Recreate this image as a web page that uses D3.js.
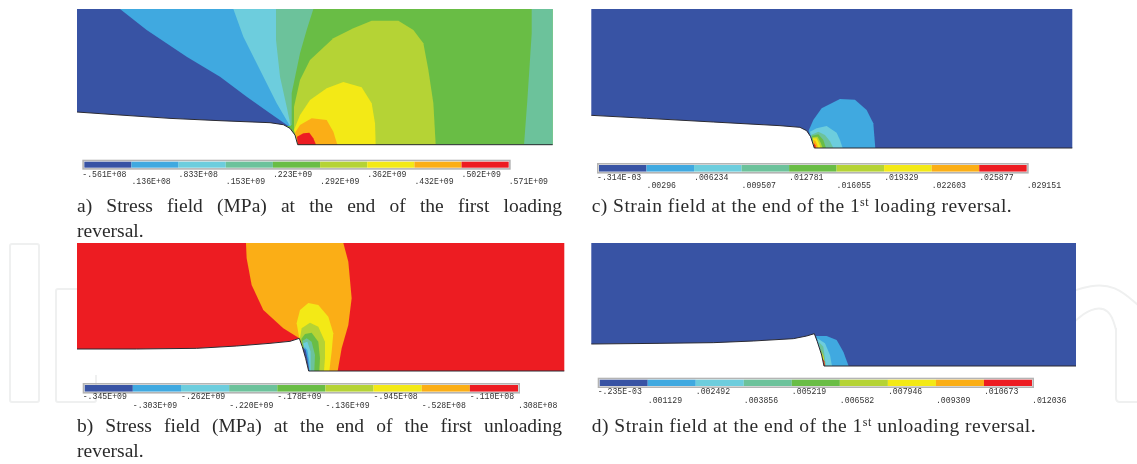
<!DOCTYPE html>
<html lang="en">
  <head>
    <meta charset="utf-8">
    <title>Stress and strain fields</title>
    <style>
      html, body { margin: 0; padding: 0; background: #fff; }
      svg { display: block; }
      .scale-label { font-family: "Liberation Mono", monospace; font-size: 8.2px; fill: #333; }
      .caption { font-family: "Liberation Serif", serif; font-size: 19.5px; fill: #2b2b2b; white-space: pre; }
    </style>
  </head>
  <body>
    <svg class="chart" width="1137" height="464"></svg>

    <script src="https://cdnjs.cloudflare.com/ajax/libs/d3/7.8.5/d3.min.js"></script>
    <script type="text/javascript">
    // contour band colours, lowest to highest
    var bandColors = ["#3953a4", "#3fa9e0", "#6dcddd", "#6cc29b", "#69bd45", "#b5d334", "#f3e914", "#fbae17", "#ed1f24"];

    // colour bar labels
    var labelsA = ["-.561E+08", ".136E+08", ".833E+08", ".153E+09", ".223E+09", ".292E+09", ".362E+09", ".432E+09", ".502E+09", ".571E+09"];
    var labelsB = ["-.345E+09", "-.303E+09", "-.262E+09", "-.220E+09", "-.178E+09", "-.136E+09", "-.945E+08", "-.528E+08", "-.110E+08", ".308E+08"];
    var labelsC = ["-.314E-03", ".00296", ".006234", ".009507", ".012781", ".016055", ".019329", ".022603", ".025877", ".029151"];
    var labelsD = ["-.235E-03", ".001129", ".002492", ".003856", ".005219", ".006582", ".007946", ".009309", ".010673", ".012036"];

    // crack outlines, x along the specimen, y up from the ligament
    var notchA = [[0,98],[129,89],[279,79],[429,72],[579,66],[619,60],[639,49],[654,29],[662,0]];
    var notchB = [[0,66],[179,66],[359,68],[479,75],[579,83],[639,89],[667,98],[676,73],[686,38],[695,0]];
    var notchC = [[0,98],[166,89],[366,78],[566,67],[626,62],[646,52],[658,34],[669,0]];
    var notchD = [[0,66],[206,68],[366,70],[486,75],[606,82],[646,90],[669,97],[678,73],[691,33],[698,0]];

    // contour regions, painted in order over the base band
    var baseA = 4, baseB = 8, baseC = 0, baseD = 0;
    var regionsA = [
      [3, [[1364,407],[1427,407],[1427,0],[1341,0],[1351,134],[1364,334]]],
      [3, [[0,407],[709,407],[689,344],[669,274],[644,154],[644,59],[0,59]]],
      [2, [[0,407],[597,407],[597,314],[609,204],[629,114],[641,56],[0,56]]],
      [1, [[0,407],[469,407],[499,324],[549,224],[599,124],[639,56],[0,56]]],
      [0, [[0,407],[129,407],[209,344],[329,264],[429,204],[509,144],[579,94],[634,56],[0,56]]],
      [5, [[651,49],[651,114],[669,194],[699,254],[769,319],[829,349],[884,372],[964,372],[1009,344],[1039,304],[1054,224],[1069,124],[1076,0],[662,0]]],
      [6, [[651,44],[669,89],[699,134],[749,169],[799,188],[854,172],[884,124],[894,64],[896,0],[662,0]]],
      [7, [[654,36],[669,59],[704,79],[749,74],[769,39],[781,0],[662,0]]],
      [8, [[660,24],[679,34],[697,36],[709,19],[717,0],[662,0]]]
    ];
    var regionsB = [
      [7, [[507,384],[799,384],[814,328],[824,218],[814,138],[794,68],[782,0],[695,0],[667,98],[619,128],[559,183],[524,258],[509,338]]],
      [6, [[667,98],[659,143],[669,183],[694,204],[724,198],[754,163],[769,113],[764,58],[757,0],[695,0]]],
      [5, [[669,98],[674,128],[699,145],[724,133],[744,88],[744,38],[741,0],[695,0]]],
      [4, [[673,96],[684,111],[704,115],[724,88],[729,38],[727,0],[695,0]]],
      [3, [[676,90],[689,98],[704,88],[714,48],[712,0],[695,0]]],
      [2, [[679,83],[691,88],[701,58],[701,0],[695,0]]],
      [1, [[682,73],[691,63],[697,28],[698,0],[695,0]]],
      [0, [[676,73],[686,63],[691,40],[697,0],[695,0]]]
    ];
    var regionsC = [
      [1, [[652,52],[666,84],[691,119],[746,147],[791,145],[826,114],[846,74],[852,0],[669,0]]],
      [2, [[656,49],[676,59],[706,66],[736,46],[746,24],[754,0],[669,0]]],
      [3, [[659,39],[681,49],[701,39],[716,20],[726,0],[669,0]]],
      [4, [[661,36],[681,41],[696,24],[704,0],[669,0]]],
      [5, [[663,32],[679,34],[688,16],[694,0],[669,0]]],
      [6, [[665,29],[676,29],[684,12],[688,0],[669,0]]],
      [7, [[666,24],[672,22],[678,9],[680,0],[669,0]]],
      [8, [[667,16],[672,8],[674,0],[669,0]]]
    ];
    var regionsD = [
      [1, [[674,90],[706,90],[736,78],[756,43],[772,0],[698,0]]],
      [2, [[678,83],[701,68],[716,33],[722,0],[698,0]]],
      [3, [[682,73],[696,58],[704,0],[698,0]]],
      [4, [[686,58],[692,40],[701,0],[698,0]]],
      [5, [[689,48],[697,30],[700,0],[698,0]]],
      [6, [[690,40],[696,25],[699,0],[698,0]]],
      [8, [[694,22],[699,14],[701,0],[698,0]]]
    ];

    // caption lines, middle part of three is a superscript
    var captionA = ["a) Stress field (MPa) at the end of the first loading", "reversal."];
    var captionB = ["b) Stress field (MPa) at the end of the first unloading", "reversal."];
    var captionC = ["c) Strain field at the end of the 1", "st", " loading reversal."];
    var captionD = ["d) Strain field at the end of the 1", "st", " unloading reversal."];

    var svg = d3.select(".chart");

    svg.append("defs").append("filter").attr("id", "soft")
        .attr("x", "-2%").attr("y", "-2%").attr("width", "104%").attr("height", "104%")
      .append("feGaussianBlur").attr("stdDeviation", 0.45);

    // faint publisher mark behind the figure
    var ghost = svg.append("g").attr("fill", "none").attr("stroke", "#eff0f0").attr("stroke-width", 2);
    ghost.append("rect").attr("x", 10).attr("y", 244).attr("width", 29).attr("height", 158).attr("rx", 2);
    ghost.append("rect").attr("x", 56).attr("y", 289).attr("width", 40).attr("height", 113).attr("rx", 2);
    ghost.append("path").attr("d", d3.line().curve(d3.curveBasis)([[1070,292],[1090,285],[1115,285],[1138,305]]));
    ghost.append("path").attr("d", d3.line().curve(d3.curveBasis)([[1074,322],[1090,308],[1110,308],[1116,330]]));
    ghost.append("path").attr("d", "M1116,328V398Q1116,402 1120,402H1138");

    var page = svg.append("g").attr("filter", "url(#soft)");

    function drawPanel(p) {
      var g = page.append("g");
      var x = d3.scaleLinear().domain([0, p.w]).range([p.left, p.right]);
      var y = d3.scaleLinear().domain([0, p.h]).range([p.bottom, p.top]);
      var line = d3.line().x(function(d) { return x(d[0]); }).y(function(d) { return y(d[1]); });
      var closed = d3.line().x(function(d) { return x(d[0]); }).y(function(d) { return y(d[1]); }).curve(d3.curveLinearClosed);
      var last = p.notch[p.notch.length - 1];

      g.append("rect")
        .attr("x", x(0)).attr("y", y(p.h))
        .attr("width", x(p.w) - x(0)).attr("height", y(0) - y(p.h))
        .attr("fill", bandColors[p.base]);

      g.selectAll(".band")
        .data(p.regions)
        .enter().append("path")
          .attr("class", "band")
          .attr("d", function(d) { return closed(d[1]); })
          .attr("fill", function(d) { return bandColors[d[0]]; });

      // crack opening is white, run a little past the panel so no colour shows at the edge
      g.append("path")
        .attr("d", closed([[-12, p.notch[0][1]]].concat(p.notch, [[last[0], -12], [-12, -12]])))
        .attr("fill", "#fff");
      g.append("path")
        .attr("d", line(p.notch.concat([[p.w, 0]])))
        .attr("fill", "none")
        .attr("stroke", "#2b2b33")
        .attr("stroke-width", 1);

      // colour bar
      var s = d3.scalePoint().domain(p.labels).range([p.barLeft, p.barRight]);
      g.append("rect")
        .attr("x", p.barLeft - 1.2).attr("y", p.barTop - 1.2)
        .attr("width", p.barRight - p.barLeft + 2.4).attr("height", p.barHeight + 2.4)
        .attr("fill", "none").attr("stroke", "#b4b4b4").attr("stroke-width", 1.6);
      g.selectAll(".swatch")
        .data(bandColors)
        .enter().append("rect")
          .attr("class", "swatch")
          .attr("x", function(d, i) { return s(p.labels[i]); })
          .attr("y", p.barTop)
          .attr("width", s.step())
          .attr("height", p.barHeight)
          .attr("fill", function(d) { return d; });
      g.selectAll(".scale-label")
        .data(p.labels)
        .enter().append("text")
          .attr("class", "scale-label")
          .attr("x", function(d, i) { return s(d) - (i == 0 ? 2 : 0); })
          .attr("y", function(d, i) { return i % 2 ? p.row2 : p.row1; })
          .text(function(d) { return d; });
    }

    function drawCaption(parts, left, base, width) {
      var t = page.append("text").attr("class", "caption").attr("x", left).attr("y", base);
      if (parts.length == 3) {
        t.append("tspan").text(parts[0]);
        t.append("tspan").attr("dy", -6).style("font-size", "12px").text(parts[1]);
        t.append("tspan").attr("dy", 6).text(parts[2]);
        var n = parts.join("").length - 1;
        t.style("letter-spacing", (width - t.node().getComputedTextLength()) / n + "px");
      } else {
        var spaces = parts[0].split(" ").length - 1;
        t.text(parts[0]);
        t.style("word-spacing", (width - t.node().getComputedTextLength()) / spaces + "px");
        page.append("text").attr("class", "caption").attr("x", left).attr("y", base + 25).text(parts[1]);
      }
    }

    drawPanel({notch: notchA, regions: regionsA, base: baseA, labels: labelsA, w: 1427, h: 407,
      left: 77, right: 552.7, top: 9, bottom: 144.7,
      barLeft: 84.3, barRight: 508.7, barTop: 161.7, barHeight: 6, row1: 176.5, row2: 184.2});
    drawPanel({notch: notchC, regions: regionsC, base: baseC, labels: labelsC, w: 1443, h: 417,
      left: 591.3, right: 1072.3, top: 9, bottom: 148,
      barLeft: 599, barRight: 1026.7, barTop: 165, barHeight: 6.6, row1: 180, row2: 188});
    drawPanel({notch: notchB, regions: regionsB, base: baseB, labels: labelsB, w: 1462, h: 384,
      left: 77, right: 564.3, top: 243, bottom: 371,
      barLeft: 84.7, barRight: 518, barTop: 385, barHeight: 6.6, row1: 399.2, row2: 407.8});
    drawPanel({notch: notchD, regions: regionsD, base: baseD, labels: labelsD, w: 1454, h: 369,
      left: 591.3, right: 1076, top: 243, bottom: 366,
      barLeft: 599.7, barRight: 1032, barTop: 379.7, barHeight: 6.3, row1: 394.2, row2: 402.5});

    drawCaption(captionA, 77, 212, 485);
    drawCaption(captionC, 591.7, 212, 420);
    drawCaption(captionB, 77, 432, 485);
    drawCaption(captionD, 591.7, 432, 444);
    </script>
  </body>
</html>
